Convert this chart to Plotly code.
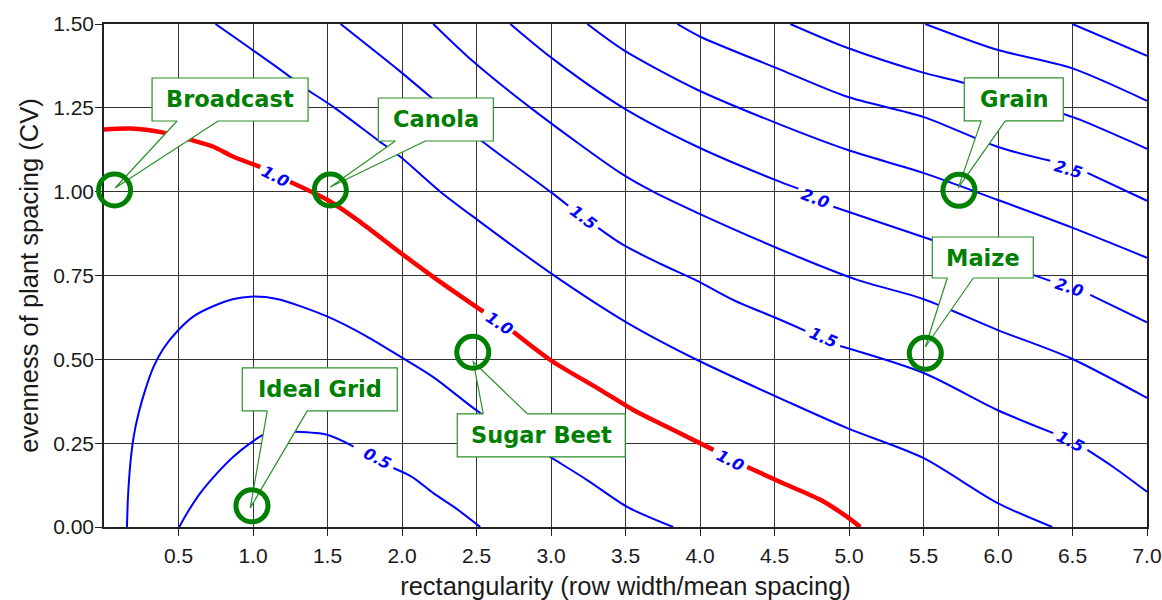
import plotly.graph_objects as go

# ---------------- axes ----------------
X_RANGE = [0, 7]
Y_RANGE = [0, 1.5]
X_TICKS = [0.5, 1.0, 1.5, 2.0, 2.5, 3.0, 3.5, 4.0, 4.5, 5.0, 5.5, 6.0, 6.5, 7.0]
X_TICK_TEXT = ["0.5", "1.0", "1.5", "2.0", "2.5", "3.0", "3.5", "4.0", "4.5", "5.0", "5.5", "6.0", "6.5", "7.0"]
Y_TICKS = [0.0, 0.25, 0.5, 0.75, 1.0, 1.25, 1.5]
Y_TICK_TEXT = ["0.00", "0.25", "0.50", "0.75", "1.00", "1.25", "1.50"]
X_TITLE = "rectangularity (row width/mean spacing)"
Y_TITLE = "evenness of plant spacing (CV)"

# ---------------- contour lines (None = label gap) ----------------
C050_X = [0.505, 0.557, 0.646, 0.758, 0.870, 0.982, 1.071, 1.183, 1.273, 1.497, 1.675, None,
          1.942, 2.069, 2.210, 2.358, 2.525]
C050_Y = [0.000, 0.041, 0.101, 0.160, 0.210, 0.250, 0.275, 0.284, 0.284, 0.275, 0.240, None,
          0.176, 0.149, 0.101, 0.057, 0.000]

C075_X = [0.154, 0.161, 0.177, 0.199, 0.232, 0.277, 0.333, 0.400, 0.490, 0.601, 0.736, 0.870, 0.982,
          1.161, 1.497, 1.765, 1.989, 2.210, 2.525, 2.995, 3.243, 3.511, 3.820]
C075_Y = [0.000, 0.090, 0.190, 0.269, 0.339, 0.409, 0.478, 0.533, 0.583, 0.628, 0.659, 0.680, 0.687,
          0.680, 0.628, 0.568, 0.508, 0.447, 0.340, 0.209, 0.140, 0.060, 0.000]

C100_X = [0.000, 0.177, 0.398, 0.579, 0.734, 0.868, 1.049, None, 1.250, 1.498, 1.700, 1.989, 2.237, 2.546, None,
          2.747, 2.995, 3.331, 3.553, 3.781, 4.090, None, 4.318, 4.539, 4.808, 4.988, 5.075]
C100_Y = [1.185, 1.188, 1.176, 1.155, 1.134, 1.104, 1.074, None, 1.029, 0.976, 0.916, 0.818, 0.737, 0.642, None,
          0.582, 0.498, 0.409, 0.349, 0.298, 0.230, None, 0.179, 0.134, 0.081, 0.030, 0.000]

C125_X = [0.748, 1.183, 1.365, 1.539, 1.834, 1.989, 2.257, 2.506, 2.995, 3.512, 3.982, 4.606, 4.988, 5.498, 5.995, 6.364]
C125_Y = [1.500, 1.364, 1.304, 1.253, 1.155, 1.104, 1.000, 0.916, 0.758, 0.609, 0.498, 0.370, 0.295, 0.206, 0.072, 0.000]

C150_X = [1.588, 1.989, 2.190, 2.525, 2.995, 3.116, None, 3.317, 3.485, 3.733, 3.982, 4.223, 4.539, 4.707, None,
          4.941, 5.498, 5.995, 6.371, None, 6.600, 6.774, 7.000]
C150_Y = [1.500, 1.358, 1.283, 1.155, 1.000, 0.958, None, 0.892, 0.841, 0.785, 0.734, 0.677, 0.618, 0.585, None,
          0.540, 0.460, 0.349, 0.280, None, 0.230, 0.179, 0.105]

C175_X = [2.210, 2.478, 2.881, 3.465, 3.686, 3.982, 4.673, 5.056, 5.498, 5.995, 6.485, 7.000]
C175_Y = [1.500, 1.388, 1.244, 1.056, 1.000, 0.937, 0.803, 0.737, 0.680, 0.588, 0.504, 0.385]

C200_X = [2.727, 2.995, 3.485, 3.982, 4.539, 4.660, None, 4.895, 5.498, 6.236, 6.351, None, 6.619, 7.000]
C200_Y = [1.500, 1.402, 1.250, 1.134, 1.029, 1.009, None, 0.955, 0.865, 0.752, 0.734, None, 0.692, 0.610]

C225_X = [3.244, 3.485, 3.982, 4.539, 4.988, 5.498, 5.995, 6.485, 7.000]
C225_Y = [1.500, 1.423, 1.304, 1.200, 1.125, 1.056, 0.976, 0.895, 0.803]

C250_X = [3.848, 4.002, 4.539, 4.988, 5.498, 5.995, 6.351, None, 6.600, 7.000]
C250_Y = [1.500, 1.462, 1.364, 1.283, 1.223, 1.134, 1.092, None, 1.056, 0.973]

C275_X = [4.606, 4.988, 5.498, 5.767, 6.438, 6.553, 7.000]
C275_Y = [1.500, 1.429, 1.355, 1.325, 1.232, 1.214, 1.128]

C300_X = [5.512, 5.995, 6.485, 7.000]
C300_Y = [1.500, 1.423, 1.370, 1.271]

C325_X = [6.500, 7.000]
C325_Y = [1.500, 1.405]

CONTOURS = [(C050_X, C050_Y), (C075_X, C075_Y), (C100_X, C100_Y), (C125_X, C125_Y),
            (C150_X, C150_Y), (C175_X, C175_Y), (C200_X, C200_Y), (C225_X, C225_Y),
            (C250_X, C250_Y), (C275_X, C275_Y), (C300_X, C300_Y), (C325_X, C325_Y)]

# highlighted contour (red overlay of the 1.0 line)
HIGHLIGHT_X = C100_X
HIGHLIGHT_Y = C100_Y

# ---------------- contour labels ----------------
LABEL_TEXT = ["0.5", "1.0", "1.0", "1.0", "1.5", "1.5", "1.5", "2.0", "2.0", "2.5"]
LABEL_X = [1.834, 1.150, 2.653, 4.203, 3.217, 4.827, 6.485, 4.773, 6.478, 6.472]
LABEL_Y = [0.203, 1.044, 0.606, 0.197, 0.922, 0.564, 0.254, 0.979, 0.713, 1.065]

# ---------------- call-outs (crop points) ----------------
CALLOUT_NAMES = ["Broadcast", "Canola", "Ideal Grid", "Sugar Beet", "Grain", "Maize"]
CALLOUT_X = [0.071, 1.519, 0.993, 2.475, 5.738, 5.512]
CALLOUT_Y = [1.005, 1.005, 0.063, 0.521, 1.004, 0.518]

# ---------------- styles ----------------
LABEL_ANGLE = [27, 27, 33, 27, 37, 23, 27, 20, 18, 16]
# pixel geometry relative to the marked point (y up): box x0,x1,y0,y1 ; wedge base xL,xR at edge y ; tip
CALLOUT_GEOM = {
    "Broadcast":  dict(box=(37.5, 193.5, 69, 112), base=(62.5, 103.5), edge=69, tip=(0.5, 2)),
    "Canola":     dict(box=(48, 163, 49, 92), base=(65, 95), edge=49, tip=(0, 3)),
    "Ideal Grid": dict(box=(-9.7, 145.3, 95, 138), base=(15.3, 55.3), edge=95, tip=(-1.7, -2)),
    "Sugar Beet": dict(box=(-15.5, 152.5, -104.5, -61.5), base=(10.5, 54.5), edge=-61.5, tip=(0.5, -9.5)),
    "Grain":      dict(box=(5.3, 104.3, 69.5, 112.5), base=(22.3, 46.3), edge=69.5, tip=(-0.7, 2.5)),
    "Maize":      dict(box=(7, 108, 75.3, 116.3), base=(22, 48), edge=75.3, tip=(0, 6.3)),
}
BLUE = "#0000ff"
RED = "#ff0000"
GREEN = "#008000"
BOX_LINE = "#2b8f2b"
GRID = "#333333"
CIRCLE_R = 16
TEXT = "#1a1a1a"

fig = go.Figure()
for cx, cy in CONTOURS:
    fig.add_trace(go.Scatter(x=cx, y=cy, mode="lines",
                             line=dict(color=BLUE, width=2, shape="spline", smoothing=0.8),
                             connectgaps=False, hoverinfo="skip", showlegend=False))
fig.add_trace(go.Scatter(x=HIGHLIGHT_X, y=HIGHLIGHT_Y, mode="lines",
                         line=dict(color=RED, width=4.5, shape="spline", smoothing=0.8),
                         connectgaps=False, hoverinfo="skip", showlegend=False))

annotations = []
for t, lx, ly, ang in zip(LABEL_TEXT, LABEL_X, LABEL_Y, LABEL_ANGLE):
    annotations.append(dict(x=lx, y=ly, xref="x", yref="y", text=t, showarrow=False, textangle=ang,
                            font=dict(family="DejaVu Sans", size=16, color=BLUE, style="italic",
                                      weight="bold"),
                            xanchor="center", yanchor="middle"))


def to_paper(v, rng):
    return (v - rng[0]) / (rng[1] - rng[0])


shapes = []
circles = []
for name, px, py in zip(CALLOUT_NAMES, CALLOUT_X, CALLOUT_Y):
    g = CALLOUT_GEOM[name]
    ax_ = to_paper(px, X_RANGE)
    ay_ = to_paper(py, Y_RANGE)
    common = dict(xref="paper", yref="paper", xsizemode="pixel", ysizemode="pixel",
                  xanchor=ax_, yanchor=ay_, layer="above")
    bx0, bx1, by0, by1 = g["box"]
    shapes.append(dict(type="rect", x0=bx0, x1=bx1, y0=by0, y1=by1, fillcolor="white",
                       line=dict(color=BOX_LINE, width=1.2), **common))
    bl, br = g["base"]
    e = g["edge"]
    tx, ty = g["tip"]
    ext = 3 if e > 0 else -3
    shapes.append(dict(type="path",
                       path=f"M {tx},{ty} L {bl},{e} L {bl},{e + ext} L {br},{e + ext} L {br},{e} Z",
                       fillcolor="white", line=dict(width=0), **common))
    shapes.append(dict(type="path", path=f"M {bl},{e} L {tx},{ty} L {br},{e}",
                       fillcolor="rgba(0,0,0,0)", line=dict(color=BOX_LINE, width=1.2), **common))
    circles.append(dict(type="circle", x0=-CIRCLE_R, x1=CIRCLE_R, y0=-CIRCLE_R, y1=CIRCLE_R,
                        fillcolor="rgba(0,0,0,0)", line=dict(color=GREEN, width=5), **common))
    annotations.append(dict(x=px, y=py, xref="x", yref="y", text=f"<b>{name}</b>", showarrow=False,
                            xshift=(bx0 + bx1) / 2, yshift=(by0 + by1) / 2,
                            xanchor="center", yanchor="middle",
                            font=dict(family="DejaVu Sans", size=22.5, color=GREEN)))

axis_common = dict(showgrid=True, gridcolor=GRID, gridwidth=1.4, showline=True, linecolor="#222222",
                   linewidth=1.5, mirror=True, ticks="outside", ticklen=7, tickcolor="#222222",
                   tickfont=dict(family="Liberation Sans", size=21, color=TEXT), zeroline=False,
                   automargin=False)

fig.update_layout(
    width=1162, height=600,
    margin=dict(l=104, r=15, t=24, b=73),
    paper_bgcolor="white", plot_bgcolor="white",
    showlegend=False, hovermode=False,
    xaxis=dict(range=X_RANGE, tickvals=X_TICKS, ticktext=X_TICK_TEXT, ticklabelstandoff=2,
               title=dict(text=X_TITLE, font=dict(family="Liberation Sans", size=25.5, color=TEXT),
                          standoff=20), **axis_common),
    yaxis=dict(range=Y_RANGE, tickvals=Y_TICKS, ticktext=Y_TICK_TEXT, ticklabelstandoff=-3,
               title=dict(text=Y_TITLE, font=dict(family="Liberation Sans", size=25.5, color=TEXT),
                          standoff=7), **axis_common),
    shapes=shapes + circles,
    annotations=annotations,
)

# remove the default 8 px page margin so the 1162x600 figure fills the window exactly
fig.write_html("out.html", config={"displayModeBar": False},
               post_script="document.body.style.margin='0px';document.body.style.overflow='hidden';")
